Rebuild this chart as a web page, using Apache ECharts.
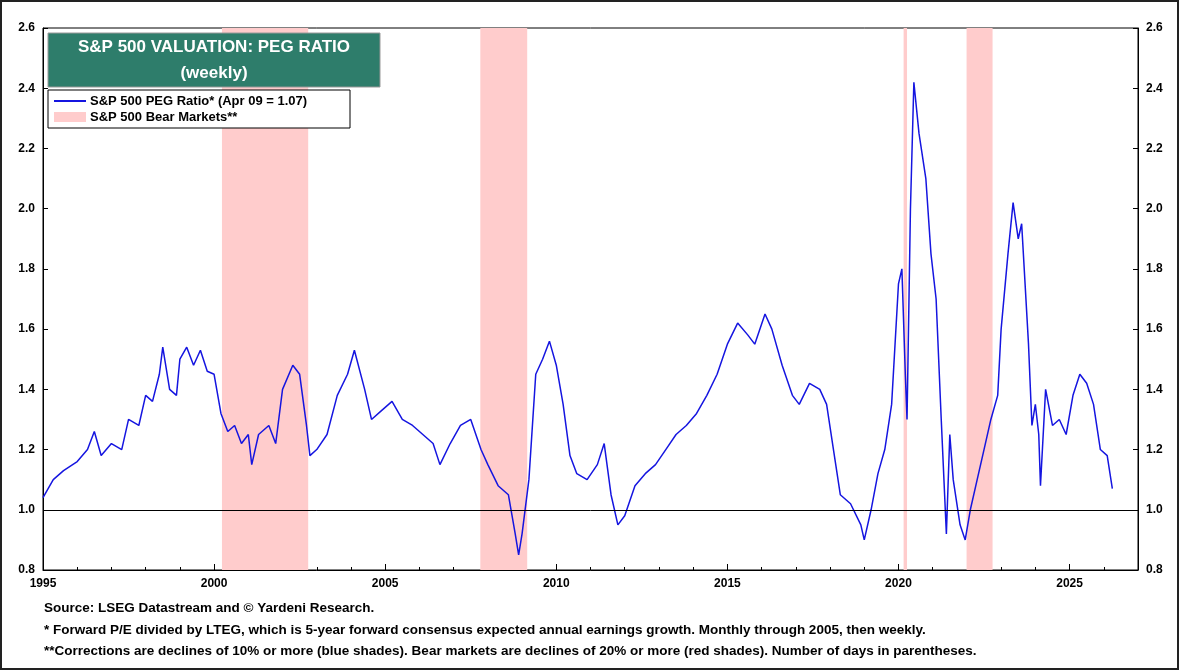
<!DOCTYPE html>
<html>
<head>
<meta charset="UTF-8" />
<script src="https://cdn.jsdelivr.net/npm/echarts@6/dist/echarts.min.js"></script>
<style>
  html, body { margin: 0; padding: 0; background: #fff; }
  #main { width: 1180px; height: 671px; }
</style>
</head>
<body>
<div id="main"></div>
<script>
// decimal year / PEG ratio pairs
var years = [1995.0,1995.3,1995.6,1996.0,1996.3,1996.5,1996.7,1997.0,1997.3,1997.5,1997.8,1998.0,1998.2,1998.4,1998.5,1998.7,1998.9,1999.0,1999.2,1999.4,1999.6,1999.8,2000.0,2000.2,2000.4,2000.6,2000.8,2001.0,2001.1,2001.3,2001.6,2001.8,2002.0,2002.3,2002.5,2002.7,2002.8,2003.0,2003.3,2003.6,2003.9,2004.1,2004.4,2004.6,2004.9,2005.2,2005.5,2005.8,2006.1,2006.4,2006.6,2006.9,2007.2,2007.5,2007.8,2008.0,2008.3,2008.6,2008.8,2008.9,2009.0,2009.2,2009.4,2009.6,2009.8,2010.0,2010.2,2010.4,2010.6,2010.9,2011.2,2011.4,2011.6,2011.8,2012.0,2012.3,2012.6,2012.9,2013.2,2013.5,2013.8,2014.1,2014.4,2014.7,2015.0,2015.3,2015.6,2015.8,2016.1,2016.3,2016.6,2016.9,2017.1,2017.4,2017.7,2017.9,2018.1,2018.3,2018.6,2018.9,2019.0,2019.2,2019.4,2019.6,2019.8,2020.0,2020.1,2020.2,2020.25,2020.35,2020.45,2020.6,2020.8,2020.95,2021.1,2021.25,2021.4,2021.5,2021.6,2021.8,2021.95,2022.1,2022.3,2022.5,2022.7,2022.9,2023.0,2023.2,2023.35,2023.5,2023.6,2023.8,2023.9,2024.0,2024.1,2024.15,2024.3,2024.5,2024.7,2024.9,2025.1,2025.3,2025.5,2025.7,2025.9,2026.1,2026.25];
var peg = [1.04,1.10,1.13,1.16,1.20,1.26,1.18,1.22,1.20,1.30,1.28,1.38,1.36,1.45,1.54,1.40,1.38,1.50,1.54,1.48,1.53,1.46,1.45,1.32,1.26,1.28,1.22,1.25,1.15,1.25,1.28,1.22,1.40,1.48,1.45,1.28,1.18,1.20,1.25,1.38,1.45,1.53,1.40,1.30,1.33,1.36,1.30,1.28,1.25,1.22,1.15,1.22,1.28,1.30,1.20,1.15,1.08,1.05,0.92,0.85,0.92,1.10,1.45,1.50,1.56,1.48,1.35,1.18,1.12,1.10,1.15,1.22,1.05,0.95,0.98,1.08,1.12,1.15,1.20,1.25,1.28,1.32,1.38,1.45,1.55,1.62,1.58,1.55,1.65,1.60,1.48,1.38,1.35,1.42,1.40,1.35,1.20,1.05,1.02,0.95,0.90,1.00,1.12,1.20,1.35,1.75,1.80,1.45,1.30,2.00,2.42,2.25,2.10,1.85,1.70,1.30,0.92,1.25,1.10,0.95,0.90,1.00,1.10,1.20,1.30,1.38,1.60,1.85,2.02,1.90,1.95,1.55,1.28,1.35,1.25,1.08,1.40,1.28,1.30,1.25,1.38,1.45,1.42,1.35,1.20,1.18,1.07];
var bearStart = [2000.23, 2007.78, 2020.15, 2021.99];
var bearEnd = [2002.75, 2009.15, 2020.25, 2022.75];
var footnotes = [
  'Source: LSEG Datastream and \u00a9 Yardeni Research.',
  '* Forward P/E divided by LTEG, which is 5-year forward consensus expected annual earnings growth. Monthly through 2005, then weekly.',
  '**Corrections are declines of 10% or more (blue shades). Bear markets are declines of 20% or more (red shades). Number of days in parentheses.'
];

var chart = echarts.init(document.getElementById('main'));
var font = 'Liberation Sans, Arial, sans-serif';
var yAxisBase = {
  type: 'value', min: 0.8, max: 2.6, interval: 0.2,
  axisLine: { show: true, lineStyle: { color: '#000' } },
  axisTick: { show: true, inside: true, lineStyle: { color: '#000' } },
  axisLabel: { color: '#000', fontWeight: 'bold', fontFamily: font, fontSize: 12, formatter: function (v) { return v.toFixed(1); } },
  splitLine: { show: false }
};
var option = {
  animation: false,
  grid: { left: 43, right: 42, top: 28, bottom: 101, show: true, borderColor: '#000', borderWidth: 1 },
  xAxis: {
    type: 'value', min: 1995, max: 2027, interval: 5,
    axisLine: { lineStyle: { color: '#000' } },
    axisTick: { inside: true, length: 6, lineStyle: { color: '#000' } },
    minorTick: { show: true, splitNumber: 5, length: 3, lineStyle: { color: '#000' } },
    axisLabel: { color: '#000', fontWeight: 'bold', fontFamily: font, fontSize: 12, showMaxLabel: false, margin: 8,
      formatter: function (v) { return String(v); } },
    splitLine: { show: false }
  },
  yAxis: [
    Object.assign({ position: 'left' }, yAxisBase),
    Object.assign({ position: 'right' }, yAxisBase)
  ],
  series: [{
    type: 'line', showSymbol: false, z: 3,
    data: years.map(function (y, i) { return [y, peg[i]]; }),
    lineStyle: { color: '#1515e0', width: 1.5 },
    markArea: {
      silent: true,
      itemStyle: { color: '#ffcccc' },
      data: bearStart.map(function (s, i) { return [{ xAxis: s }, { xAxis: bearEnd[i] }]; })
    },
    markLine: {
      silent: true, symbol: 'none', label: { show: false },
      lineStyle: { color: '#000', width: 1, type: 'solid' },
      data: [{ yAxis: 1.0 }]
    }
  }],
  graphic: [
    { type: 'rect', shape: { x: 1, y: 1, width: 1177, height: 668 }, style: { fill: 'none', stroke: '#222', lineWidth: 2 } },
    { type: 'rect', shape: { x: 48, y: 33, width: 332, height: 54 }, style: { fill: '#2e7d6b', stroke: '#999', lineWidth: 1 }, z: 10 },
    { type: 'text', x: 214, y: 47, style: { text: 'S&P 500 VALUATION: PEG RATIO', fill: '#fff', font: 'bold 17px ' + font, align: 'center', verticalAlign: 'middle' }, z: 11 },
    { type: 'text', x: 214, y: 73, style: { text: '(weekly)', fill: '#fff', font: 'bold 17px ' + font, align: 'center', verticalAlign: 'middle' }, z: 11 },
    { type: 'rect', shape: { x: 48, y: 90, width: 302, height: 38 }, style: { fill: '#fff', stroke: '#000', lineWidth: 1 }, z: 10 },
    { type: 'line', shape: { x1: 54, y1: 101, x2: 86, y2: 101 }, style: { stroke: '#1515e0', lineWidth: 2 }, z: 11 },
    { type: 'rect', shape: { x: 54, y: 112, width: 32, height: 10 }, style: { fill: '#ffcccc' }, z: 11 },
    { type: 'text', x: 90, y: 101, style: { text: 'S&P 500 PEG Ratio* (Apr 09 = 1.07)', fill: '#000', font: 'bold 13px ' + font, verticalAlign: 'middle' }, z: 11 },
    { type: 'text', x: 90, y: 117, style: { text: 'S&P 500 Bear Markets**', fill: '#000', font: 'bold 13px ' + font, verticalAlign: 'middle' }, z: 11 },
    { type: 'text', x: 44, y: 608, style: { text: footnotes[0], fill: '#000', font: 'bold 13.5px ' + font, verticalAlign: 'middle' } },
    { type: 'text', x: 44, y: 630, style: { text: footnotes[1], fill: '#000', font: 'bold 13.5px ' + font, verticalAlign: 'middle' } },
    { type: 'text', x: 44, y: 651, style: { text: footnotes[2], fill: '#000', font: 'bold 13.5px ' + font, verticalAlign: 'middle' } }
  ]
};
chart.setOption(option);
</script>
</body>
</html>
